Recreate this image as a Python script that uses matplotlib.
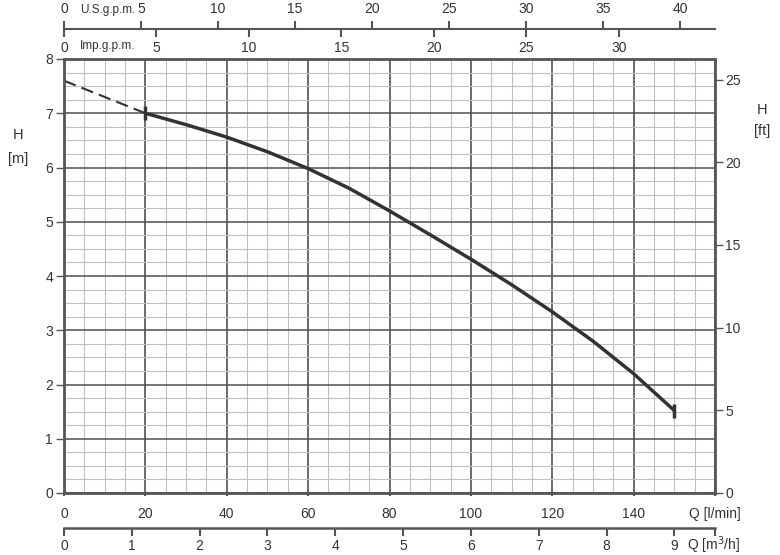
import matplotlib
matplotlib.use("Agg")
import matplotlib.pyplot as plt
from matplotlib.ticker import MultipleLocator, FixedLocator

plt.rcParams['font.family'] = ['Liberation Sans Narrow', 'Liberation Sans', 'DejaVu Sans']

# data
q_solid = [20, 30, 40, 50, 60, 70, 80, 90, 100, 110, 120, 130, 140, 150]
h_solid = [7.0, 6.79, 6.56, 6.29, 5.98, 5.62, 5.2, 4.76, 4.31, 3.84, 3.34, 2.8, 2.2, 1.52]
q_dash = [0, 20]
h_dash = [7.6, 7.0]
q_ticks = [0, 20, 40, 60, 80, 100, 120, 140, 160]
q_labels = ['0', '20', '40', '60', '80', '100', '120', '140', 'Q [l/min]']
h_ticks = [0, 1, 2, 3, 4, 5, 6, 7, 8]
ft_ticks = [0, 5, 10, 15, 20, 25]
us_ticks = [0, 5, 10, 15, 20, 25, 30, 35, 40]
imp_ticks = [0, 5, 10, 15, 20, 25, 30]
m3h_ticks = [0, 1, 2, 3, 4, 5, 6, 7, 8, 9, 9.6]
m3h_labels = ['0', '1', '2', '3', '4', '5', '6', '7', '8', '9', '']

W, H = 780, 555
DPI = 100
fig = plt.figure(figsize=(W / DPI, H / DPI), dpi=DPI)

TXT = '#333333'
SP = '#555555'
FS = 10

x0, x1 = 64, 715
y0, y1 = 59, 493
def fx(px): return px / W
def fy(py): return 1 - py / H

ax = fig.add_axes([fx(x0), fy(y1), fx(x1) - fx(x0), fy(y0) - fy(y1)])
ax.set_xlim(0, 160)
ax.set_ylim(0, 8)
ax.xaxis.set_major_locator(FixedLocator(q_ticks))
ax.set_xticklabels(q_labels)
ax.xaxis.set_minor_locator(MultipleLocator(5))
ax.yaxis.set_major_locator(FixedLocator(h_ticks))
ax.yaxis.set_minor_locator(MultipleLocator(0.25))
ax.grid(which='minor', color='#c0c0c0', lw=0.8)
ax.grid(which='major', axis='x', color='#6a6a6a', lw=1.4)
ax.grid(which='major', axis='y', color='#505050', lw=1.1)
ax.tick_params(which='minor', length=0)
ax.tick_params(axis='y', which='major', direction='out', length=6, width=1, color=SP,
               labelsize=FS, labelcolor=TXT, pad=2)
ax.tick_params(axis='x', which='major', direction='out', length=2, width=1.5, color=SP,
               labelsize=FS, labelcolor=TXT, pad=8)
for s in ax.spines.values():
    s.set_color(SP)
    s.set_linewidth(2)
ax.set_axisbelow(True)

ax.plot(q_dash, h_dash, color='#333333', lw=1.5, dashes=(6, 3))
ax.plot(q_solid, h_solid, color='#333333', lw=2.5, solid_capstyle='butt',
        solid_joinstyle='round')
ax.plot([q_solid[0], q_solid[-1]], [h_solid[0], h_solid[-1]], ls='none', marker='|',
        ms=10, mew=2.5, color='#333333')

# right ft axis
axr = ax.twinx()
axr.set_ylim(0, 8 * 3.28084)
axr.yaxis.set_major_locator(FixedLocator(ft_ticks))
axr.tick_params(axis='y', direction='out', length=6, width=1, color=SP,
                labelsize=FS, labelcolor=TXT, pad=1.5)
for s in axr.spines.values():
    s.set_visible(False)

# axis titles
fig.text(fx(18), fy(135), 'H', ha='center', va='center', fontsize=FS + 0.5, color=TXT)
fig.text(fx(18), fy(159), '[m]', ha='center', va='center', fontsize=FS + 0.5, color=TXT)
fig.text(fx(762), fy(110), 'H', ha='center', va='center', fontsize=FS + 0.5, color=TXT)
fig.text(fx(762), fy(131), '[ft]', ha='center', va='center', fontsize=FS + 0.5, color=TXT)

# top gpm axis
ytop = 29
ax_us = fig.add_axes([fx(x0), fy(ytop), fx(x1) - fx(x0), 0.0001])
ax_us.set_xlim(0, 160 / 3.78541)
ax_us.set_yticks([])
ax_us.patch.set_visible(False)
for k in ['left', 'right', 'bottom']:
    ax_us.spines[k].set_visible(False)
ax_us.spines['top'].set_color(SP)
ax_us.spines['top'].set_linewidth(1.5)
ax_us.xaxis.set_ticks_position('top')
ax_us.xaxis.set_major_locator(FixedLocator(us_ticks))
ax_us.tick_params(axis='x', direction='out', length=6, width=1.5, color=SP,
                  labelsize=FS, labelcolor=TXT, pad=3.5)
fig.text(fx(80), fy(10), 'U.S.g.p.m.', ha='left', va='center', fontsize=8.5, color=TXT)

ax_imp = fig.add_axes([fx(x0), fy(ytop), fx(x1) - fx(x0), 0.0001])
ax_imp.set_xlim(0, 160 / 4.54609)
ax_imp.set_yticks([])
ax_imp.patch.set_visible(False)
for k in ['left', 'right', 'top', 'bottom']:
    ax_imp.spines[k].set_visible(False)
ax_imp.xaxis.set_ticks_position('bottom')
ax_imp.xaxis.set_major_locator(FixedLocator(imp_ticks))
ax_imp.tick_params(axis='x', direction='out', length=6, width=1.5, color=SP,
                   labelsize=FS, labelcolor=TXT, pad=2.5)
fig.text(fx(80), fy(46), 'Imp.g.p.m.', ha='left', va='center', fontsize=8.5, color=TXT)

# bottom m3/h axis
ybot = 528
ax_m3 = fig.add_axes([fx(x0), fy(ybot), fx(x1) - fx(x0), 0.0001])
ax_m3.set_xlim(0, 9.6)
ax_m3.set_yticks([])
ax_m3.patch.set_visible(False)
for k in ['left', 'right', 'top']:
    ax_m3.spines[k].set_visible(False)
ax_m3.spines['bottom'].set_color(SP)
ax_m3.spines['bottom'].set_linewidth(1.8)
ax_m3.xaxis.set_major_locator(FixedLocator(m3h_ticks))
ax_m3.set_xticklabels(m3h_labels)
ax_m3.tick_params(axis='x', direction='out', length=6, width=1.5, color=SP,
                  labelsize=FS, labelcolor=TXT, pad=2)
fig.text(fx(714), fy(545), 'Q [m$^3$/h]', ha='center', va='center', fontsize=FS, color=TXT)

fig.savefig('out.png', dpi=DPI)
